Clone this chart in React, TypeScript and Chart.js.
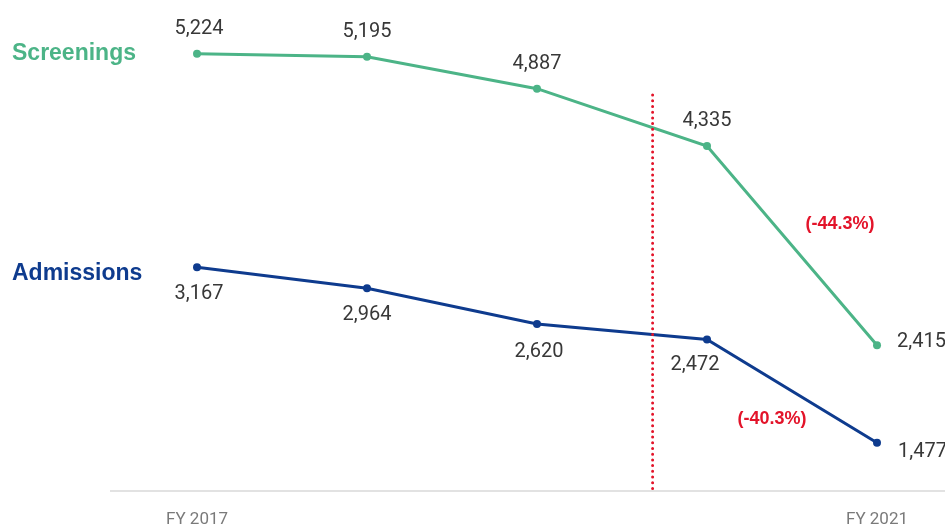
import React, { useEffect, useRef } from "react";
import { Chart, registerables } from "chart.js";

Chart.register(...registerables);

const categories = ["FY 2017", "FY 2018", "FY 2019", "FY 2020", "FY 2021"];
const tickLabels = ["FY 2017", "", "", "", "FY 2021"];
const screenings = [5224, 5195, 4887, 4335, 2415];
const admissions = [3167, 2964, 2620, 2472, 1477];
const seriesNames = ["Screenings", "Admissions"];
const changeLabels = ["(-44.3%)", "(-40.3%)"];
const markerX = 2.68;
const markerTop = 4825;

const GREEN = "#4cb487";
const NAVY = "#0e3b8e";
const RED = "#e3142a";
const TEXT = "#383838";

// label offsets (pixels) per point: [dx, dy, align]
const labelPlacement: [number, number, CanvasTextAlign][][] = [
  [[2, -25, "center"], [0, -25, "center"], [0, -25, "center"], [0, -25, "center"], [20, -3, "left"]],
  [[2, 27, "center"], [0, 27, "center"], [2, 28, "center"], [-12, 26, "center"], [21, 9, "left"]],
];
const namePlacement: [number, number][] = [[12, 0], [12, 6]];
const changePlacement: [number, number][] = [[48, -22], [-20, 28]];

const labelPlugin = {
  id: "customLabels",
  afterDatasetsDraw(chart: any) {
    const ctx = chart.ctx;
    const xs = chart.scales.x;
    const ys = chart.scales.y;
    ctx.save();
    // marker line
    const mx = xs.getPixelForValue(markerX);
    ctx.strokeStyle = RED;
    ctx.lineWidth = 3;
    ctx.setLineDash([0, 5.7]);
    ctx.lineCap = "round";
    ctx.beginPath();
    ctx.moveTo(mx, ys.getPixelForValue(markerTop));
    ctx.lineTo(mx, chart.chartArea.bottom - 2);
    ctx.stroke();
    ctx.setLineDash([]);

    chart.data.datasets.forEach((ds: any, di: number) => {
      const meta = chart.getDatasetMeta(di);
      ctx.font = "20px Roboto";
      ctx.fillStyle = TEXT;
      ctx.textBaseline = "middle";
      meta.data.forEach((pt: any, i: number) => {
        const [dx, dy, align] = labelPlacement[di][i];
        ctx.textAlign = align;
        ctx.fillText(ds.data[i].y.toLocaleString("en-US"), pt.x + dx, pt.y + dy);
      });
      // series name
      const first = meta.data[0];
      ctx.font = "bold 23px 'Liberation Sans'";
      ctx.fillStyle = ds.borderColor;
      ctx.textAlign = "left";
      ctx.fillText(seriesNames[di], namePlacement[di][0], first.y + namePlacement[di][1]);
      // change label
      const a = meta.data[meta.data.length - 2];
      const b = meta.data[meta.data.length - 1];
      ctx.font = "bold 18px 'Liberation Sans'";
      ctx.fillStyle = RED;
      ctx.textAlign = "center";
      ctx.fillText(
        changeLabels[di],
        (a.x + b.x) / 2 + changePlacement[di][0],
        (a.y + b.y) / 2 + changePlacement[di][1]
      );
    });
    ctx.restore();
  },
};

export default function App() {
  const ref = useRef<HTMLCanvasElement | null>(null);
  useEffect(() => {
    if (!ref.current) return;
    const chart = new Chart(ref.current, {
      type: "line",
      data: {
        datasets: [
          {
            label: seriesNames[0],
            data: screenings.map((v, i) => ({ x: i, y: v })),
            borderColor: GREEN,
            backgroundColor: GREEN,
            borderWidth: 3,
            pointRadius: 4,
            pointBackgroundColor: GREEN,
            pointBorderWidth: 0,
            tension: 0,
            clip: false as any,
          },
          {
            label: seriesNames[1],
            data: admissions.map((v, i) => ({ x: i, y: v })),
            borderColor: NAVY,
            backgroundColor: NAVY,
            borderWidth: 3,
            pointRadius: 4,
            pointBackgroundColor: NAVY,
            pointBorderWidth: 0,
            tension: 0,
            clip: false as any,
          },
        ],
      },
      options: {
        animation: false,
        responsive: false,
        maintainAspectRatio: false,
        devicePixelRatio: 1,
        layout: { autoPadding: false, padding: { left: 111, right: 0, top: 0, bottom: 0 } },
        plugins: { legend: { display: false }, tooltip: { enabled: false } },
        scales: {
          x: {
            type: "linear",
            min: -0.506,
            max: 4.4,
            afterBuildTicks: (axis: any) => {
              axis.ticks = categories.map((_, i) => ({ value: i }));
            },
            afterFit: (axis: any) => {
              axis.height = 36;
            },
            ticks: {
              autoSkip: false,
              maxRotation: 0,
              padding: 19,
              color: "#7a7a7a",
              font: { size: 17, family: "Roboto" },
              callback: (v: any) => tickLabels[Math.round(Number(v))] ?? "",
            },
            grid: { display: false, drawTicks: false },
            border: { display: true, color: "#e2e2e2", width: 2 },
          },
          y: {
            display: false,
            min: 1012,
            max: 5741,
          },
        },
      },
      plugins: [labelPlugin],
    });
    return () => chart.destroy();
  }, []);
  return (
    <div style={{ position: "absolute", left: 0, top: 0, width: 945, height: 527, background: "#fff" }}>
      <canvas ref={ref} width={945} height={527} style={{ display: "block", width: 945, height: 527 }} />
    </div>
  );
}
